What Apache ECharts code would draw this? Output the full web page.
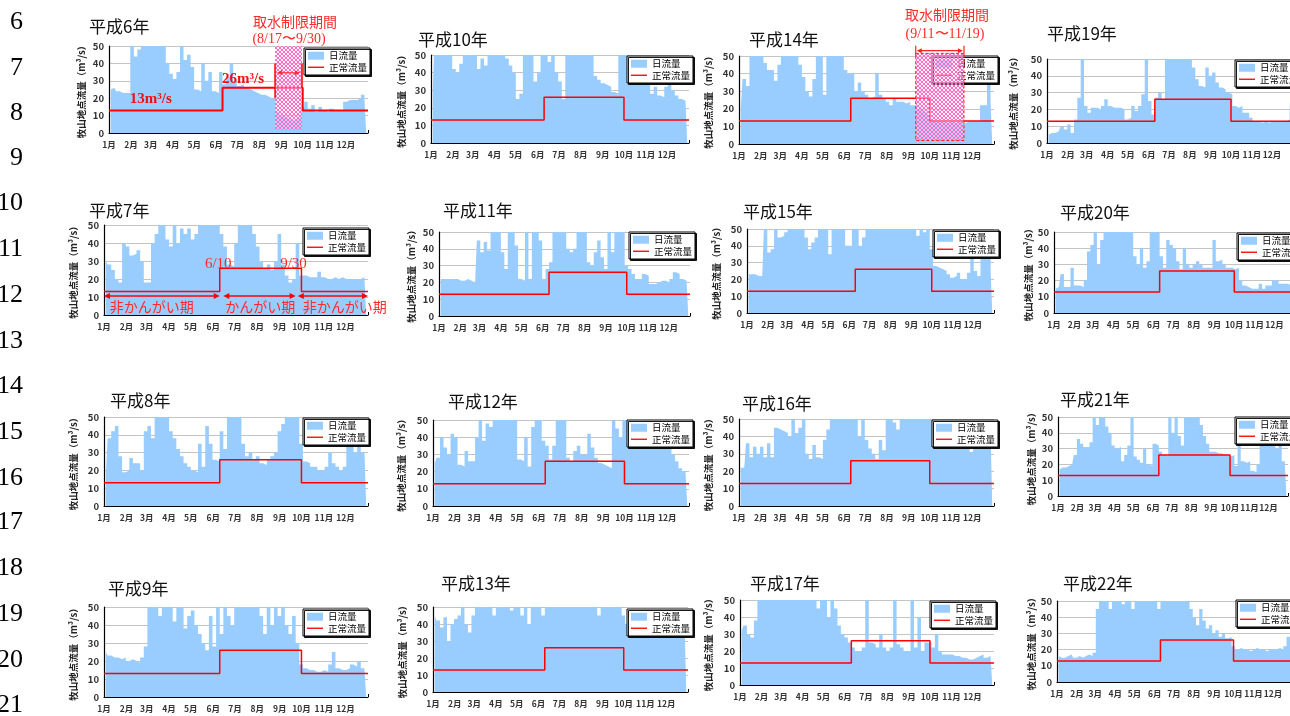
<!DOCTYPE html>
<html><head><meta charset="utf-8">
<script src="https://cdn.jsdelivr.net/npm/echarts@6/dist/echarts.min.js"></script>
<style>html,body{margin:0;padding:0;background:#fff}#c{width:1290px;height:716px}</style>
</head><body><div id="c"></div>
<script>
// ---------------- DATA ----------------
const monthLabels = ['1月','2月','3月','4月','5月','6月','7月','8月','9月','10月','11月','12月'];
const monthStartDays = [0,31,59,90,120,151,181,212,243,273,304,334];
const yearDays = 365;
const blockDays = 5;            // each value = 5-day block
const normalLow = 13;           // 非かんがい期 正常流量 (m3/s)
const normalHigh = 26;          // かんがい期 正常流量 (m3/s)
const irrigationStartDay = 160; // 6/10
const irrigationEndDay = 273;   // 9/30
const rowNumbers = ['6','7','8','9','10','11','12','13','14','15','16','17','18','19','20','21'];

// daily flow (m3/s), 5-day blocks (values above 50 are clipped by the axis)
const flowH6  = [25,26,24,23,23,23, 50,44,48,60,60,60, 60,60,60,55,40,34, 31,35,50,42,45,38, 25,24,40,30,35,24, 23,35,28,32,40,30, 27,28,26,25,24,23, 22,22,21,20,20,12, 10,9,8,7,8,9, 15,18,14,16,12,15, 13,12,14,13,13,13, 18,19,19,19,20,22,19];
const flowH10 = [30,60,60,60,60,50, 42,40,45,60,60,60, 55,42,48,44,60,60, 60,60,55,48,44,40, 25,28,60,60,60,35, 40,60,55,46,55,40, 35,25,60,60,60,60, 60,60,60,55,38,36, 34,33,32,29,28,60, 60,60,60,60,60,60, 50,42,28,32,27,26, 32,36,30,27,25,24,25];
const flowH14 = [20,37,33,60,60,60, 50,46,42,42,36,45, 60,55,60,50,60,45, 38,30,27,37,60,60, 28,60,60,60,60,55, 42,40,40,30,35,30, 28,26,27,40,28,26, 24,22,26,24,24,23, 24,22,22,20,20,18, 15,13,12,13,13,12, 13,12,13,12,12,13, 13,13,13,22,22,35,25];
const flowH19 = [5,6,6,7,10,8, 11,6,14,27,60,22, 18,21,21,20,22,26, 22,21,21,21,20,14, 15,22,19,22,29,50, 25,17,27,30,26,60, 60,60,60,60,60,55, 50,45,38,34,33,45, 40,42,36,33,32,30, 29,22,21,22,18,18, 15,13,13,12,13,12, 13,13,13,13,13,14,25];
const flowH7  = [30,28,25,20,18,40, 38,33,34,36,30,18, 18,40,45,50,50,42, 38,50,40,48,45,48, 42,45,60,60,60,60, 60,55,45,38,28,27, 40,60,60,60,60,45, 38,30,26,28,25,30, 45,28,22,18,20,40, 22,22,21,21,21,24, 21,20,20,21,20,21, 20,20,20,20,20,21,20];
const flowH11 = [22,22,22,22,22,22, 21,21,22,21,20,45, 38,44,39,60,60,55, 38,28,60,60,42,22, 21,50,22,50,60,45, 22,28,32,60,60,60, 60,40,38,40,50,60, 55,32,30,38,45,35, 28,50,38,60,60,55, 30,28,25,22,22,25, 24,19,19,20,21,21, 20,22,26,25,22,21,20];
const flowH15 = [23,23,23,22,22,50, 36,38,50,45,46,48, 60,60,60,60,60,45, 38,42,45,60,60,60, 35,60,60,60,55,40, 40,50,60,40,45,60, 60,60,60,60,60,60, 60,60,60,60,60,60, 60,55,46,50,48,50, 38,28,27,26,25,23, 21,22,24,20,20,24, 50,25,22,38,40,38,25];
const flowH20 = [15,16,24,16,16,28, 17,17,16,20,38,42, 50,30,45,60,60,60, 60,60,60,60,60,55, 35,30,40,28,32,60, 60,60,35,28,45,42, 40,32,27,40,30,28, 30,32,30,28,28,28, 45,32,33,30,28,28, 27,28,20,17,16,15, 15,15,18,15,17,17, 20,20,18,18,18,17,17];
const flowH8  = [18,38,42,45,28,19, 20,27,24,24,20,42, 45,38,60,60,60,60, 42,38,32,28,24,22, 20,19,35,22,45,35, 26,25,42,32,60,60, 60,60,35,28,30,26, 28,24,23,26,28,30, 42,46,60,60,60,50, 35,25,24,22,22,20, 20,22,30,24,22,20, 22,45,40,30,35,30,32];
const flowH12 = [25,28,40,34,30,42, 40,24,23,32,26,26, 40,50,38,48,46,60, 60,60,60,55,60,60, 27,26,40,23,46,50, 60,38,35,27,35,60, 60,55,28,26,32,35, 30,30,42,34,28,25, 24,23,22,50,45,40, 60,60,55,60,50,45, 50,44,42,40,42,40, 40,35,30,26,22,20,19];
const flowH16 = [22,22,36,28,34,30, 34,28,36,28,45,44, 43,42,40,50,42,45, 60,30,27,35,28,27, 38,44,60,60,60,60, 60,60,60,60,40,50, 38,33,30,27,38,32, 60,60,48,44,60,60, 60,60,60,60,60,55, 60,60,50,45,50,45, 50,45,48,45,48,40, 31,45,48,45,45,40,45];
const flowH21 = [17,18,18,19,20,26, 36,33,31,31,34,50, 45,60,50,44,40,32, 30,31,22,26,32,50, 25,23,21,30,20,19, 33,32,28,26,25,50, 40,50,38,32,50,60, 60,60,55,45,38,33, 28,28,27,27,26,26, 25,26,19,32,22,21, 22,16,15,20,45,50, 50,40,32,30,35,22,20];
const flowH9  = [25,23,22,22,21,22, 20,21,20,19,22,28, 50,60,60,45,60,60, 60,42,60,50,38,45, 48,40,35,30,26,45, 28,60,35,60,45,40, 60,60,55,60,60,60, 60,45,35,60,40,55, 45,60,40,35,45,30, 18,16,15,15,14,14, 15,14,18,25,16,15, 15,16,18,17,20,16,15];
const flowH13 = [45,42,38,44,30,40, 43,45,60,40,35,45, 60,60,50,60,60,45, 60,60,55,60,48,60, 60,45,60,40,60,50, 60,45,60,60,60,50, 60,60,60,55,60,60, 60,60,50,60,60,45, 60,60,55,60,50,60, 45,40,35,42,38,35, 38,40,45,38,35,40, 42,45,40,38,35,40,42];
const flowH17 = [32,35,30,28,38,60, 60,60,50,60,60,60, 60,60,60,55,60,60, 60,60,50,60,45,60, 50,40,60,45,35,30, 28,25,22,20,20,22, 60,25,24,22,30,22, 20,22,50,24,22,20, 20,60,22,40,20,25, 25,22,30,20,18,18, 18,17,17,16,16,15, 15,16,17,18,16,17,18];
const flowH22 = [16,15,15,16,17,15, 16,15,16,17,16,18, 45,50,60,60,45,60, 60,60,48,60,60,45, 60,60,50,60,60,55, 60,45,60,60,50,60, 60,55,60,60,60,45, 40,35,45,38,33,35, 30,32,28,30,27,28, 22,20,21,20,20,19, 20,21,20,20,19,20, 20,20,21,20,22,28,30];

const panelTitles = ['平成6年','平成10年','平成14年','平成19年','平成7年','平成11年','平成15年','平成20年','平成8年','平成12年','平成16年','平成21年','平成9年','平成13年','平成17年','平成22年'];
const panelFlows  = [flowH6,flowH10,flowH14,flowH19,flowH7,flowH11,flowH15,flowH20,flowH8,flowH12,flowH16,flowH21,flowH9,flowH13,flowH17,flowH22];

// restriction periods / irrigation periods (day of year), annotation values
const restrictH6 = [234, 272];
const restrictH14 = [253, 322];
const h7Periods = [[0,160],[165,265],[268,365]];

// ---------------- LAYOUT ----------------
// [gridLeft, gridTop, gridWidth, gridHeight, nameGap, legendLeft, legendTop, titleX, titleY]
const panelLayout = [
 [109,46,259,87,25, 304,48, 89,27],
 [431,55,258,88,27, 627,56, 418,40],
 [739,56,255,88,28, 932,56, 749,40],
 [1047,59,246,84,31, 1235,60, 1047,34],
 [104,225,264,90,28, 303,228, 89,211],
 [439,232,251,84,25, 629,232, 443,211],
 [747,229,247,84,28, 933,230, 743,212],
 [1054,232,241,81,23, 1237,233, 1060,213],
 [104,417,264,89,28, 303,418, 110,401],
 [433,420,256,86,29, 627,420, 448,402],
 [739,419,255,87,28, 932,420, 742,404],
 [1058,417,230,79,24, 1235,417, 1060,400],
 [104,607,264,90,28, 303,609, 108,589],
 [433,607,255,85,28, 627,609, 441,584],
 [740,600,254,85,29, 930,601, 750,584],
 [1057,601,236,81,23, 1236,600, 1063,584]
];
const rowNumberY = [22,68,113,158,203,249,295,341,386,432,478,522,568,614,660,705];

const FONT = '"Noto Sans CJK JP", "Noto Sans", sans-serif';
const SERIF = '"Liberation Serif", "DejaVu Serif", serif';
const BLUE = '#99ccff';
const RED = '#ff0000';

const chart = echarts.init(document.getElementById('c'), null, {renderer:'canvas', width:1290, height:716});

const normalData = [[0,normalLow],[irrigationStartDay,normalLow],[irrigationStartDay,normalHigh],[irrigationEndDay,normalHigh],[irrigationEndDay,normalLow],[yearDays,normalLow]];

const grids=[], xAxes=[], yAxes=[], legends=[], series=[];
panelLayout.forEach((p,k)=>{
  grids.push({left:p[0], top:p[1], width:p[2], height:p[3], containLabel:false, outerBoundsMode:'none', show:true, backgroundColor:'#fff', borderWidth:0});
  xAxes.push({gridIndex:k, type:'value', min:0, max:yearDays,
    axisLine:{show:true, onZero:false, lineStyle:{color:'#000', width:1.2}},
    axisTick:{show:true, inside:true, length:3, customValues:monthStartDays.concat([yearDays]), lineStyle:{color:'#000'}},
    axisLabel:{show:true, customValues:monthStartDays, formatter:(v)=>{const i=monthStartDays.indexOf(Math.round(v)); return i>=0?monthLabels[i]:'';}, fontSize:8.5, fontWeight:'bold', color:'#333', margin:8, fontFamily:FONT},
    splitLine:{show:false}});
  yAxes.push({gridIndex:k, type:'value', min:0, max:50, interval:10,
    axisLine:{show:true, onZero:false, lineStyle:{color:'#000', width:1.2}},
    axisTick:{show:false},
    axisLabel:{fontSize:9.5, fontWeight:'bold', color:'#333', margin:5, fontFamily:FONT},
    splitLine:{show:true, lineStyle:{color:'#c4c4c4', width:1}},
    name:'牧山地点流量（m³/s）', nameLocation:'middle', nameGap:p[4]-2, nameRotate:90,
    nameTextStyle:{fontSize:9.5, fontWeight:'bold', color:'#222', fontFamily:FONT}});
  legends.push({left:p[5], top:p[6], orient:'vertical', selectedMode:false,
    data:[{name:'日流量', icon:'rect'},{name:'正常流量', icon:'path://M0,0H24V2H0Z'}],
    itemWidth:16, itemHeight:8, itemGap:2, padding:[3,3,3,4],
    borderColor:'#000', borderWidth:1, backgroundColor:'#fff',
    shadowColor:'rgba(0,0,0,0.9)', shadowOffsetX:1.5, shadowOffsetY:1.5, shadowBlur:0,
    textStyle:{fontSize:9.5, color:'#000', fontFamily:FONT}});
  series.push({type:'line', name:'日流量', xAxisIndex:k, yAxisIndex:k,
    data: panelFlows[k].map((v,i)=>[i*blockDays+blockDays/2, v]),
    step:'middle', symbol:'none', clip:true, silent:true, z:2,
    lineStyle:{width:0, color:BLUE}, itemStyle:{color:BLUE}, areaStyle:{color:BLUE, opacity:1}});
  series.push({type:'line', name:'正常流量', xAxisIndex:k, yAxisIndex:k,
    data: normalData, symbol:'none', silent:true, z:3,
    lineStyle:{width:k===0?2:1.5, color:RED}, itemStyle:{color:RED}});
});

chart.setOption({animation:false, backgroundColor:'#fff', grid:grids, xAxis:xAxes, yAxis:yAxes, legend:legends, series:series});

// ---------------- ANNOTATIONS ----------------
const hatch = document.createElement('canvas'); hatch.width=4; hatch.height=4;
const hg = hatch.getContext('2d');
hg.fillStyle='rgba(255,215,238,0.35)'; hg.fillRect(0,0,4,4);
hg.fillStyle='#ff6cc8';
for(let i=0;i<4;i++){ hg.fillRect(i,i,1,1); hg.fillRect(3-i,i,1,1); }

function px(k,x,y){ return chart.convertToPixel({gridIndex:k},[x,y]); }
const G=[];
function text(x,y,t,font,fill,align){ G.push({type:'text', z:20, x:x, y:y, style:{text:t, font:font, fill:fill, align:align||'center', verticalAlign:'middle'}}); }
function line(x1,y1,x2,y2,color,w,dash){ G.push({type:'line', z:20, shape:{x1,y1,x2,y2}, style:{stroke:color, lineWidth:w, lineDash:dash||null}}); }
function arrow(x1,x2,y,color,w,hl,hw){
  line(x1+2,y,x2-2,y,color,w);
  G.push({type:'polygon', z:20, shape:{points:[[x1,y],[x1+hl,y-hw],[x1+hl,y+hw]]}, style:{fill:color}});
  G.push({type:'polygon', z:20, shape:{points:[[x2,y],[x2-hl,y-hw],[x2-hl,y+hw]]}, style:{fill:color}});
}

// row numbers
rowNumbers.forEach((t,i)=>text(23,rowNumberY[i],t,'26px '+SERIF,'#000','right'));
// panel titles
panelTitles.forEach((t,k)=>text(panelLayout[k][7],panelLayout[k][8],t,'17px '+FONT,'#111','left'));

// H6 restriction
{
  const a=px(0,restrictH6[0],50), b=px(0,restrictH6[1],2);
  G.push({type:'rect', z:15, shape:{x:a[0], y:a[1], width:b[0]-a[0], height:b[1]-a[1]}, style:{fill:{image:hatch, repeat:'repeat'}}});
  const t1=px(0,restrictH6[0],40), t2=px(0,restrictH6[0],20);
  line(t1[0],t1[1],t2[0],t2[1],'#ff0000',1.5);
  const r1=px(0,restrictH6[1],40), r2=px(0,restrictH6[1],26);
  line(r1[0],r1[1],r2[0],r2[1],'#ff0000',1.5);
  const m=px(0,0,34.6);
  arrow(t1[0]+2,r1[0]-2,m[1],'#ff3030',1.2,5,2.5);
  let p=px(0,59,19.6); text(p[0],p[1],'13m³/s','bold 15px '+SERIF,'#ee1111');
  p=px(0,189,31); text(p[0],p[1],'26m³/s','bold 15px '+SERIF,'#ee1111');
  text(295,22,'取水制限期間','14px '+FONT,'#ff2a2a');
  text(289,39,'(8/17〜9/30)','14px '+SERIF,'#ff2a2a');
}
// H14 restriction
{
  const a=px(2,restrictH14[0],51.5), b=px(2,restrictH14[1],2);
  G.push({type:'rect', z:15, shape:{x:a[0], y:a[1], width:b[0]-a[0], height:b[1]-a[1]}, style:{fill:{image:hatch, repeat:'repeat'}, stroke:'#ff2020', lineWidth:1, lineDash:[3,2]}});
  const y=px(2,0,53)[1];
  arrow(a[0]+1,b[0]-1,y,'#ff2020',1.2,5,2.5);
  line(a[0],y-5,a[0],y+5,'#ff2020',1.2);
  line(b[0],y-5,b[0],y+5,'#ff2020',1.2);
  text(947,15,'取水制限期間','14px '+FONT,'#ff2a2a');
  text(945,34,'(9/11〜11/19)','14px '+SERIF,'#ff2a2a');
}
// H7 irrigation periods
{
  const labels=['非かんがい期','かんがい期','非かんがい期'];
  const centers=[66,216,333];
  h7Periods.forEach((pr,i)=>{
    const a=px(4,pr[0],10.5), b=px(4,pr[1],10.5);
    arrow(a[0],b[0],a[1],'#ff0000',1.5,6,3);
    const c=px(4,centers[i],4.5);
    text(c[0],c[1],labels[i],'14px '+FONT,'#ff2a2a');
  });
  let p=px(4,158,28.5); text(p[0],p[1],'6/10','15px '+SERIF,'#ff2a2a');
  p=px(4,262,28.5); text(p[0],p[1],'9/30','15px '+SERIF,'#ff2a2a');
}
chart.setOption({graphic:G});
</script></body></html>
